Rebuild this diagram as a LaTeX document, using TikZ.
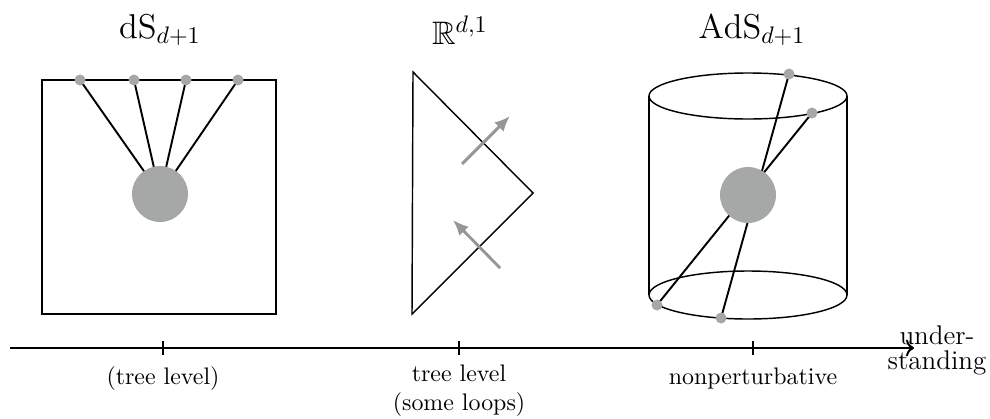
\documentclass[tikz,border=0pt]{standalone}
\usepackage{amsmath,amssymb}
\usetikzlibrary{arrows.meta, positioning, calc}
\definecolor{dotgray}{RGB}{166,168,167}
\definecolor{arrgray}{RGB}{150,150,150}

\begin{document}
\begin{tikzpicture}[x=0.0147cm, y=-0.0147cm,
  bdry/.style={circle, fill=dotgray, inner sep=0pt, minimum size=4.6pt},
  blob/.style={circle, fill=dotgray, inner sep=0pt, minimum size=23.4pt},
  prop/.style={thick},
  mom/.style={arrgray, line width=1.2pt, -{Latex[length=6.5pt,width=5.5pt]}},
  ttl/.style={font=\fontsize{13.6pt}{16pt}\selectfont}]
  \useasboundingbox (0,0) rectangle (990,418);

  % de Sitter
  \node[ttl] (dstitle) at (160,30) {$\mathrm{dS}_{d+1}$};
  \draw[thick] (42,80) rectangle (276,314);
  \coordinate (dsc) at (160,194);
  \foreach \i/\x in {1/80,2/134,3/186,4/238} {
    \coordinate (ds\i) at (\x,80);
    \draw[prop] (ds\i) -- (dsc);
    \node[bdry] at (ds\i) {};
  }
  \node[blob] (dsblob) at (dsc) {};

  % flat space
  \node[ttl] (mtitle) at (460,30) {$\mathbb{R}^{d,1}$};
  \draw[semithick] (413,72) -- (533,193) -- (412,314) -- cycle;
  \coordinate (out0) at (462,164);
  \coordinate (out1) at (510,116);
  \coordinate (in0) at (500,268);
  \coordinate (in1) at (453,220);
  \draw[mom] (out0) -- (out1);
  \draw[mom] (in0) -- (in1);

  % anti de Sitter
  \node[ttl] (adstitle) at (752,30) {$\mathrm{AdS}_{d+1}$};
  \draw[semithick] (748,96) ellipse [x radius=99, y radius=23];
  \draw[semithick] (748,295) ellipse [x radius=99, y radius=24];
  \draw[semithick] (649,96) -- (649,295);
  \draw[semithick] (847,96) -- (847,295);
  \coordinate (ads1) at (789,74);
  \coordinate (ads2) at (812,113);
  \coordinate (ads3) at (657,305);
  \coordinate (ads4) at (721,318);
  \draw[prop] (ads1) -- (ads4);
  \draw[prop] (ads2) -- (ads3);
  \foreach \i in {1,...,4} \node[bdry] at (ads\i) {};
  \node[blob] (adsblob) at (748,195) {};

  % axis
  \coordinate (axl) at (10,348);
  \coordinate (axr) at (914,348);
  \draw[thick,->] (axl) -- (axr);
  \foreach \x in {163,459,753} \draw[thick] (\x,341) -- (\x,355);
  \node (lab1) at (163,379) {(tree level)};
  \node[align=center] (lab2) at (459,391) {tree level\\(some loops)};
  \node (lab3) at (753,379) {nonperturbative};
  \node[align=center, inner sep=0pt, font=\fontsize{11.3pt}{10.4pt}\selectfont]
    (axlab) at (937,350) {under-\\standing};
\end{tikzpicture}
\end{document}
